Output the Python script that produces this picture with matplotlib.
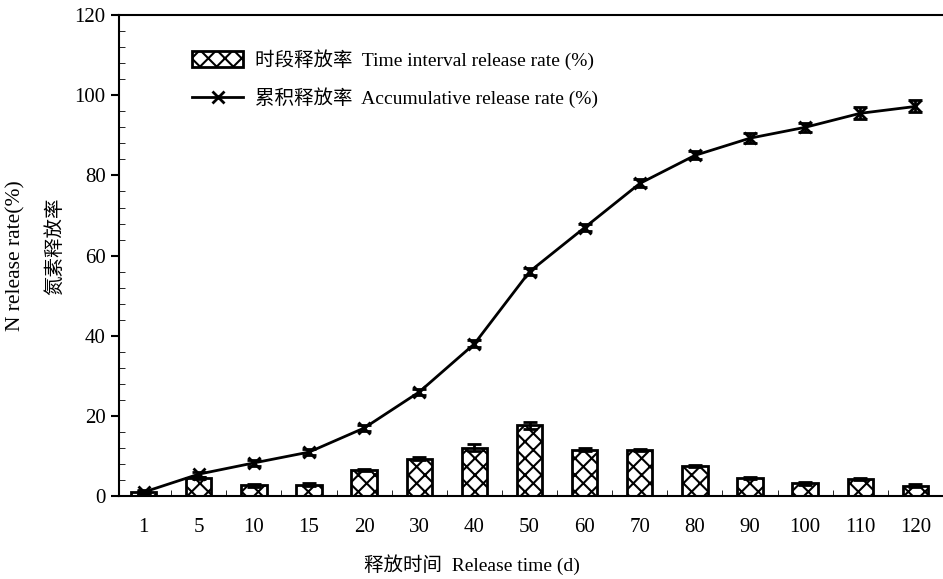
import matplotlib.pyplot as plt
from matplotlib.ticker import MultipleLocator
from matplotlib.lines import Line2D
from matplotlib.patches import Patch
import numpy as np

plt.rcParams['font.family'] = ['Liberation Serif', 'Noto Sans CJK SC']
plt.rcParams['hatch.linewidth'] = 1.5

days = ["1", "5", "10", "15", "20", "30", "40", "50", "60", "70", "80", "90", "100", "110", "120"]
interval_rate = [1.0, 4.5, 2.7, 2.9, 6.5, 9.4, 12.1, 17.7, 11.6, 11.5, 7.6, 4.6, 3.2, 4.3, 2.6]
interval_err = [0.2, 0.3, 0.4, 0.4, 0.2, 0.3, 0.8, 0.9, 0.4, 0.2, 0.2, 0.2, 0.4, 0.3, 0.4]
cumulative_rate = [1.0, 5.5, 8.3, 11.0, 17.0, 26.0, 38.0, 56.0, 67.0, 78.0, 85.0, 89.3, 92.0, 95.5, 97.2]
cumulative_err = [0.5, 0.6, 0.7, 0.7, 0.8, 0.8, 0.9, 0.9, 0.9, 1.0, 1.0, 1.2, 1.2, 1.5, 1.5]

x = np.arange(len(days))

fig = plt.figure(figsize=(9.43, 5.79), dpi=100)
ax = fig.add_axes([0.126, 0.143, 0.874, 0.831])

ax.bar(x, interval_rate, width=0.46, color="white", edgecolor="black", linewidth=2,
       hatch="xx", yerr=interval_err, capsize=5, error_kw=dict(elinewidth=2, capthick=2))
ax.errorbar(x, cumulative_rate, yerr=cumulative_err, color="black", linewidth=2,
            marker="x", markersize=9, markeredgewidth=2, capsize=5, capthick=2)

ax.set_xlim(-0.45, 14.5)
ax.set_ylim(0, 120)
ax.set_xticks(x)
ax.set_xticklabels(days)
ax.set_xticks(x[:-1] + 0.5, minor=True)
ax.tick_params(axis="x", which="major", length=0, labelsize=15, pad=16)
ax.tick_params(axis="x", which="minor", direction="in", length=4)
ax.yaxis.set_major_locator(MultipleLocator(20))
ax.yaxis.set_minor_locator(MultipleLocator(4))
ax.tick_params(axis="y", which="major", direction="out", length=6, width=1.5, labelsize=15)
ax.tick_params(axis="y", which="minor", direction="in", length=4)
for s in ["left", "bottom", "top"]:
    ax.spines[s].set_linewidth(1.5)
ax.spines["right"].set_visible(False)

handles = [
    Patch(facecolor="white", edgecolor="black", linewidth=2, hatch="xx"),
    Line2D([], [], color="black", linewidth=2, marker="x", markersize=9, markeredgewidth=2),
]
labels = ["时段释放率  Time interval release rate (%)", "累积释放率  Accumulative release rate (%)"]
ax.legend(handles, labels, loc="upper left", bbox_to_anchor=(0.068, 0.965), frameon=False,
          fontsize=14, handlelength=2.6, handleheight=0.9, labelspacing=0.9, handletextpad=0.6)

fig.text(0.5, 0.025, "释放时间  Release time (d)", ha="center", va="center", fontsize=14)
fig.text(0.017, 0.558, "N release rate(%)", rotation=90, ha="center", va="center", fontsize=15.5)
fig.text(0.058, 0.575, "氮素释放率", rotation=90, ha="center", va="center", fontsize=14)

plt.savefig("out.png", dpi=100)
